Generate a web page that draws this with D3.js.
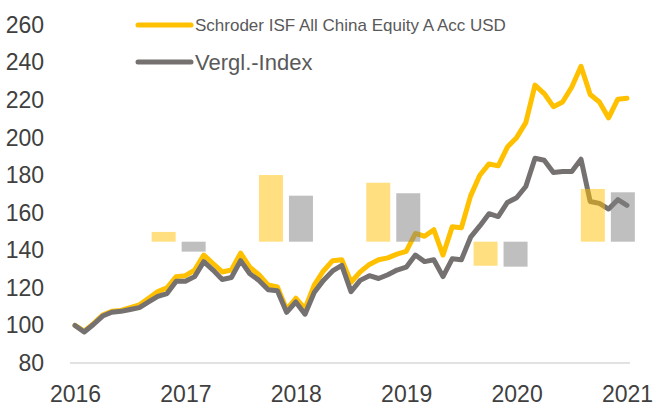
<!DOCTYPE html>
<html>
<head>
<meta charset="utf-8">
<script src="https://cdn.jsdelivr.net/npm/d3@7"></script>
<style>
  body { margin: 0; background: #fff; }
  text { font-family: "Liberation Sans", Arial, sans-serif; }
</style>
</head>
<body>
<div id="container"></div>
<script>
/* CONSTANTS AND GLOBALS */
const width = 654,
  height = 410,
  margin = { top: 25, bottom: 47, left: 75, right: 27 }

// monthly index values, Jan 2016 .. Jan 2021
const fund = [100, 97, 101, 105.5, 107.5, 108, 109.5, 111, 114.5, 118, 120, 126, 126.5,
  129.5, 137.5, 133, 128.5, 129.5, 138.5, 131, 127, 121.5, 120.5, 108.5, 114.5,
  109, 121.5, 129, 134.5, 135, 123, 128.5, 132.5, 135, 136, 138, 139.5,
  149, 147.5, 151, 137.5, 152.5, 152, 169, 180, 186, 185, 195, 200,
  208, 228, 223.5, 216.5, 219, 227, 238, 223, 219, 210.5, 220.5, 221]
const bench = [100, 96.5, 100.5, 105, 107, 107.5, 108.5, 109.5, 112.5, 115.5, 117, 123.5, 123.5,
  126, 134, 129.5, 124.5, 125.5, 134.5, 127.5, 124, 119, 118.5, 107, 112.5,
  106, 117.5, 124, 129, 132, 118, 124, 126.5, 125, 127, 129.5, 131,
  137.5, 134, 135, 126, 135.5, 135, 147, 153, 159.5, 158, 165.5, 168,
  174, 189, 188, 181.5, 182, 182, 188.5, 166, 165, 162, 167, 164]

// annual returns in %, drawn as bars from a base level
const barYears = ["2016", "2017", "2018", "2019", "2020"]
const fundReturns = [5.2, 35.5, 31.4, -12.8, 28.1]
const benchReturns = [-5.3, 24.5, 25.8, -13.3, 26.3]
const barBase = 144.6

const yearLabels = ["2016", "2017", "2018", "2019", "2020", "2021"]
const yTicks = [80, 100, 120, 140, 160, 180, 200, 220, 240, 260]
const seriesNames = ["Schroder ISF All China Equity A Acc USD", "Vergl.-Index"]

const gold = "#FFC000", grey = "#767171"

/* SCALES */
const xScale = d3.scaleLinear()
  .domain([0, fund.length - 1])
  .range([margin.left, width - margin.right])

const yScale = d3.scaleLinear()
  .domain([80, 260])
  .range([height - margin.bottom, margin.top])

const barBand = d3.scaleBand()
  .domain(barYears)
  .range([125, 661.5])

const barInner = d3.scaleBand()
  .domain(["fund", "bench"])
  .range([-27, 27])
  .paddingInner(0.2)

/* HTML ELEMENTS */
const svg = d3.select("#container")
  .append("svg")
  .attr("width", width)
  .attr("height", height)

// baseline
svg.append("line")
  .attr("x1", margin.left - 5)
  .attr("x2", width - margin.right + 3)
  .attr("y1", yScale(80))
  .attr("y2", yScale(80))
  .attr("stroke", "#D9D9D9")
  .attr("stroke-width", 1.5)

const axisFont = g => g.selectAll("text")
  .attr("fill", "#404040")
  .style("font-size", "23px")
  .style("font-family", "Liberation Sans, Arial, sans-serif")

// y axis
const yAxis = d3.axisLeft(yScale).tickValues(yTicks).tickSize(0).tickPadding(0)
svg.append("g")
  .attr("transform", `translate(44,0)`)
  .call(yAxis)
  .call(g => g.select(".domain").remove())
  .call(axisFont)

// x axis
const xAxis = d3.axisBottom(xScale)
  .tickValues(yearLabels.map((d, i) => i * 12))
  .tickFormat((d, i) => yearLabels[i])
  .tickSize(0)
  .tickPadding(0)
svg.append("g")
  .attr("transform", `translate(0,${yScale(80) + 23})`)
  .call(xAxis)
  .call(g => g.select(".domain").remove())
  .call(axisFont)

// lines
const line = d3.line()
  .x((d, i) => xScale(i))
  .y(d => yScale(d))

svg.append("path")
  .datum(fund)
  .attr("d", line)
  .attr("fill", "none")
  .attr("stroke", gold)
  .attr("stroke-width", 5)
  .attr("stroke-linejoin", "round")
  .attr("stroke-linecap", "round")

svg.append("path")
  .datum(bench)
  .attr("d", line)
  .attr("fill", "none")
  .attr("stroke", grey)
  .attr("stroke-width", 5)
  .attr("stroke-linejoin", "round")
  .attr("stroke-linecap", "round")

// bars (semi-transparent, on top of the lines)
const barData = barYears.flatMap((y, i) => [
  { year: y, key: "fund", v: fundReturns[i], color: gold },
  { year: y, key: "bench", v: benchReturns[i], color: "#808080" }
])

svg.selectAll("rect.bar")
  .data(barData)
  .join("rect")
  .attr("class", "bar")
  .attr("x", d => barBand(d.year) + barBand.bandwidth() / 2 + barInner(d.key))
  .attr("width", barInner.bandwidth())
  .attr("y", d => yScale(Math.max(barBase, barBase + d.v)))
  .attr("height", d => Math.abs(yScale(barBase) - yScale(barBase + d.v)))
  .attr("fill", d => d.color)
  .attr("fill-opacity", 0.5)

// legend
const legend = svg.append("g")
const legendItems = [
  { name: seriesNames[0], color: gold, y: 25, size: 17 },
  { name: seriesNames[1], color: grey, y: 62, size: 22 }
]
legendItems.forEach(d => {
  legend.append("line")
    .attr("x1", 138).attr("x2", 191)
    .attr("y1", d.y).attr("y2", d.y)
    .attr("stroke", d.color)
    .attr("stroke-width", 5)
    .attr("stroke-linecap", "round")
  legend.append("text")
    .attr("x", 195)
    .attr("y", d.y)
    .attr("dy", "0.35em")
    .attr("fill", "#595959")
    .style("font-size", d.size + "px")
    .text(d.name)
})
</script>
</body>
</html>
